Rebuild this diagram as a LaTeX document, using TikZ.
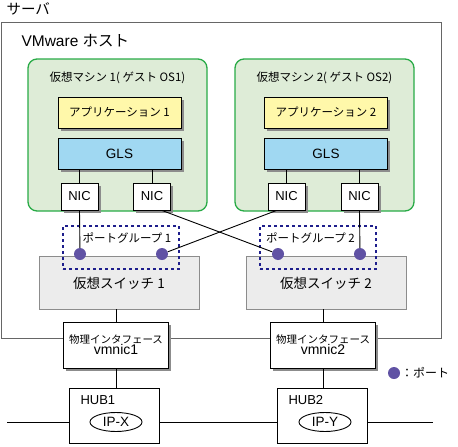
\documentclass[tikz,border=0pt]{standalone}
\usepackage{fontspec}
\setmainfont{Liberation Sans}
\newfontfamily\jp{Noto Sans CJK JP}
\usetikzlibrary{shadows, shapes.geometric}
\definecolor{vmgreen}{RGB}{40,170,70}
\definecolor{vmfill}{RGB}{222,236,215}
\definecolor{appyellow}{RGB}{255,248,170}
\definecolor{glsblue}{RGB}{160,216,242}
\definecolor{swgray}{RGB}{236,236,236}
\definecolor{pgnavy}{RGB}{30,30,140}
\definecolor{portpurple}{RGB}{96,82,164}

\begin{document}
\begin{tikzpicture}[x=1pt, y=-1pt,
        shadowbox/.style={draw, line width=0.9pt, fill=white, inner sep=0pt,
            drop shadow={shadow xshift=2.5pt, shadow yshift=-2.5pt, fill=black!45, opacity=1}},
        appbox/.style={shadowbox, fill=appyellow, minimum width=123pt, minimum height=31pt,
            font=\jp\fontsize{11.5}{13}\selectfont},
        glsbox/.style={shadowbox, fill=glsblue, minimum width=123pt, minimum height=31pt,
            font=\fontsize{13.5}{15}\selectfont},
        nicbox/.style={shadowbox, minimum width=37pt, minimum height=27pt,
            font=\fontsize{13}{15}\selectfont},
        vmbox/.style={draw=vmgreen, fill=vmfill, line width=1.3pt, rounded corners=9pt,
            minimum width=179pt, minimum height=152pt},
        pgbox/.style={draw=pgnavy, dashed, line width=1.1pt, minimum width=116pt, minimum height=43pt},
        swbox/.style={draw=black!45, fill=swgray, line width=0.9pt, minimum width=160pt, minimum height=53pt,
            font=\jp\fontsize{13.5}{15}\selectfont},
        phybox/.style={shadowbox, minimum width=105pt, minimum height=46pt, align=center},
        hubbox/.style={draw, fill=white, line width=0.9pt, minimum width=90pt, minimum height=55pt},
        ipnode/.style={draw, ellipse, line width=0.9pt, minimum width=52pt, minimum height=19pt, inner sep=0pt,
            font=\fontsize{13.5}{15}\selectfont},
        port/.style={circle, fill=portpurple, minimum size=12pt, inner sep=0pt},
        wire/.style={line width=0.9pt}
    ]
    \useasboundingbox (0, 0) rectangle (458, 447);

    % server and host
    \node [draw=black!60, line width=0.9pt, minimum width=440pt, minimum height=316pt] (server) at (221, 180) {};
    \node [anchor=west, font=\jp\fontsize{14.5}{16}\selectfont] (servertitle) at (3, 9) {サーバ};
    \node [anchor=west, font=\fontsize{15.5}{17}\selectfont] (hosttitle) at (18, 41) {VMware {\jp ホスト}};

    % virtual machines
    \node [vmbox] (vm1) at (117.5, 135) {};
    \node [vmbox] (vm2) at (324.5, 135) {};
    \node [font=\jp\fontsize{11.5}{13}\selectfont] (vm1title) at (117.5, 78) {仮想マシン 1( ゲスト OS1)};
    \node [font=\jp\fontsize{11.5}{13}\selectfont] (vm2title) at (324.5, 78) {仮想マシン 2( ゲスト OS2)};

    \node [appbox] (app1) at (119.5, 112.5) {アプリケーション 1};
    \node [appbox] (app2) at (326, 112.5) {アプリケーション 2};
    \node [glsbox] (gls1) at (119.5, 153.5) {GLS};
    \node [glsbox] (gls2) at (326, 153.5) {GLS};

    \node [nicbox] (nic1a) at (79.5, 196.5) {NIC};
    \node [nicbox] (nic1b) at (152, 196.5) {NIC};
    \node [nicbox] (nic2a) at (286.5, 196.5) {NIC};
    \node [nicbox] (nic2b) at (359.5, 196.5) {NIC};
    \draw [wire] (gls1.south -| nic1a) -- (nic1a.north);
    \draw [wire] (gls1.south -| nic1b) -- (nic1b.north);
    \draw [wire] (gls2.south -| nic2a) -- (nic2a.north);
    \draw [wire] (gls2.south -| nic2b) -- (nic2b.north);

    % virtual switches and port groups
    \node [swbox] (vsw1) at (119, 282.5) {\raisebox{-14pt}{仮想スイッチ 1}};
    \node [swbox] (vsw2) at (326, 282.5) {\raisebox{-14pt}{仮想スイッチ 2}};
    \node [pgbox] (pg1) at (121, 247.5) {};
    \node [pgbox] (pg2) at (318, 247.5) {};
    \node [font=\jp\fontsize{11.5}{13}\selectfont] (pg1label) at (127, 238.5) {ポートグループ 1};
    \node [font=\jp\fontsize{11.5}{13}\selectfont] (pg2label) at (310.5, 238.5) {ポートグループ 2};

    \node [port] (p1a) at (80, 254) {};
    \node [port] (p1b) at (162, 254) {};
    \node [port] (p2a) at (278, 254) {};
    \node [port] (p2b) at (360, 254) {};

    \draw [wire] (nic1a.south) -- (p1a);
    \draw [wire] ([xshift=10pt]nic1b.south) -- (p2a);
    \draw [wire] ([xshift=-10pt]nic2a.south) -- (p1b);
    \draw [wire] (nic2b.south) -- (p2b);

    % physical interfaces
    \node [phybox] (phy1) at (116, 345) {{\jp\fontsize{10.5}{12}\selectfont 物理インタフェース}\\[-1pt]{\fontsize{14}{16}\selectfont vmnic1}};
    \node [phybox] (phy2) at (323, 345) {{\jp\fontsize{10.5}{12}\selectfont 物理インタフェース}\\[-1pt]{\fontsize{14}{16}\selectfont vmnic2}};
    \draw [wire] (phy1.north) -- (phy1.north |- vsw1.south);
    \draw [wire] (phy2.north) -- (phy2.north |- vsw2.south);

    % hubs and network
    \node [hubbox] (hub1) at (114, 415.5) {};
    \node [hubbox] (hub2) at (322, 415.5) {};
    \node [anchor=west, font=\fontsize{13}{15}\selectfont] (hub1label) at (77, 400) {HUB1};
    \node [anchor=west, font=\fontsize{13}{15}\selectfont] (hub2label) at (285, 400) {HUB2};
    \node [ipnode] (ipx) at (116, 422) {IP-X};
    \node [ipnode] (ipy) at (325, 422) {IP-Y};
    \draw [wire] (phy1.south) -- (phy1.south |- hub1.north);
    \draw [wire] (phy2.south) -- (phy2.south |- hub2.north);

    \coordinate (lanleft) at (7, 422);
    \coordinate (lanright) at (433, 422);
    \draw [wire] (lanleft) -- (hub1.west |- lanleft);
    \draw [wire] (hub1.east |- lanleft) -- (hub2.west |- lanleft);
    \draw [wire] (hub2.east |- lanleft) -- (lanright);

    % legend
    \node [port] (legendport) at (394, 373) {};
    \node [anchor=west, inner sep=0pt, font=\jp\fontsize{12}{14}\selectfont] (legendtext) at (401, 373) {：ポート};
\end{tikzpicture}
\end{document}
